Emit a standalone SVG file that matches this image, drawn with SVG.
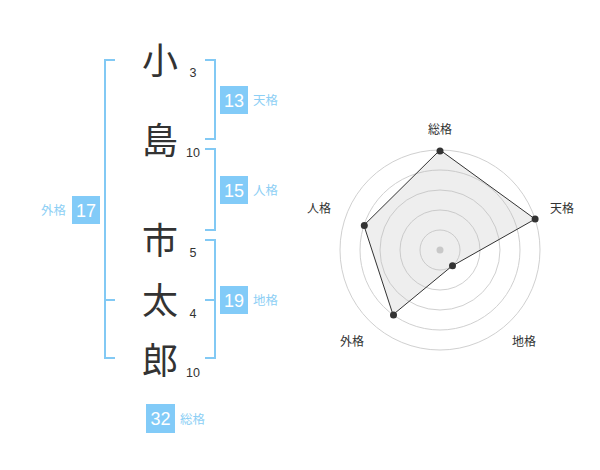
<svg xmlns="http://www.w3.org/2000/svg" width="600" height="470" viewBox="0 0 600 470">
<style>
.br{fill:none;stroke:#82c9f4;stroke-width:2}
.box{fill:#82cbf8}
.bn{font-family:"Liberation Sans",Arial,sans-serif;font-size:18px;fill:#fff;text-anchor:middle}
.lb{font-family:"Noto Sans CJK JP","Noto Sans CJK SC",sans-serif;font-size:12.5px;fill:#8dcff5}
.ch{font-family:"Noto Sans CJK JP","Noto Sans CJK SC",sans-serif;font-size:36px;fill:#333;text-anchor:middle}
.sn{font-family:"Liberation Sans",Arial,sans-serif;font-size:12.5px;fill:#333;text-anchor:middle}
.ring{fill:none;stroke:#d0d0d0;stroke-width:1}
.rl{font-family:"Noto Sans CJK JP","Noto Sans CJK SC",sans-serif;font-size:12px;fill:#333;text-anchor:middle}
.pt{fill:#333}
</style>
<rect width="600" height="470" fill="#fff"/>
<g id="connectors">
<path class="br" d="M115,60H105V358H115M105,300H115"/>
<path class="br" d="M205,60H215V139H205"/>
<path class="br" d="M205,149H215V230H205"/>
<path class="br" d="M205,240H215V358H205M205,300H215"/>
</g>
<g id="chars">
<text class="ch" x="160" y="74">小</text>
<text class="ch" x="160" y="154">島</text>
<text class="ch" x="160" y="254">市</text>
<text class="ch" x="160" y="314">太</text>
<text class="ch" x="160" y="374">郎</text>
<text class="sn" x="193" y="77">3</text>
<text class="sn" x="193" y="157">10</text>
<text class="sn" x="193" y="257">5</text>
<text class="sn" x="193" y="318">4</text>
<text class="sn" x="193" y="377">10</text>
</g>
<g id="tenkaku">
<rect class="box" x="220" y="86" width="28" height="28"/>
<text class="bn" x="234" y="106.5">13</text>
<text class="lb" x="253" y="105">天格</text>
</g>
<g id="jinkaku">
<rect class="box" x="220" y="176" width="28" height="28"/>
<text class="bn" x="234" y="196.5">15</text>
<text class="lb" x="253" y="195">人格</text>
</g>
<g id="chikaku">
<rect class="box" x="220" y="286" width="28" height="28"/>
<text class="bn" x="234" y="306.5">19</text>
<text class="lb" x="253" y="305">地格</text>
</g>
<g id="gaikaku">
<rect class="box" x="72" y="196" width="28" height="28"/>
<text class="bn" x="86" y="216.5">17</text>
<text class="lb" x="66" y="215" text-anchor="end">外格</text>
</g>
<g id="soukaku">
<rect class="box" x="146" y="404" width="29" height="29"/>
<text class="bn" x="160.5" y="425">32</text>
<text class="lb" x="180" y="423.5">総格</text>
</g>
<g id="radar">
<circle class="ring" cx="440" cy="250" r="20"/>
<circle class="ring" cx="440" cy="250" r="40"/>
<circle class="ring" cx="440" cy="250" r="60"/>
<circle class="ring" cx="440" cy="250" r="80"/>
<circle class="ring" cx="440" cy="250" r="100"/>
<polygon points="440,150 535.1,219.1 451.8,266.2 393,314.7 363.9,225.3" fill="#bdbdbd" fill-opacity="0.25" stroke="#333" stroke-width="1"/>
<circle cx="440" cy="250" r="3.5" fill="#c8c8c8"/>
<circle class="pt" cx="440" cy="151" r="3.5"/>
<circle class="pt" cx="535.1" cy="219.1" r="3.5"/>
<circle class="pt" cx="452.5" cy="265.8" r="3.5"/>
<circle class="pt" cx="393.5" cy="315" r="3.5"/>
<circle class="pt" cx="364.3" cy="225.5" r="3.5"/>
<text class="rl" x="440" y="134">総格</text>
<text class="rl" x="562" y="213">天格</text>
<text class="rl" x="524" y="346">地格</text>
<text class="rl" x="352" y="346">外格</text>
<text class="rl" x="319" y="213">人格</text>
</g>
</svg>
